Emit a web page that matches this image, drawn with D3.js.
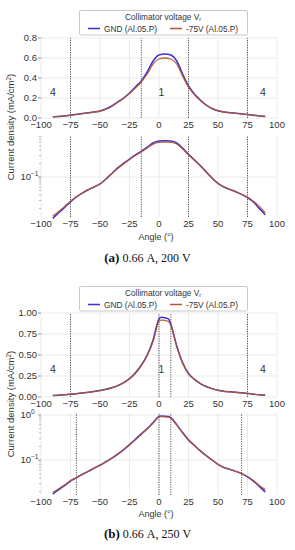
<!DOCTYPE html>
<html>
<head>
<meta charset="utf-8">
<script src="https://cdn.jsdelivr.net/npm/d3@7"></script>
<style>
  body { margin: 0; background: #fff; }
  svg { display: block; font-family: "Liberation Sans", Arial, sans-serif; }
</style>
</head>
<body>
<svg id="chart" width="295" height="550"></svg>
<script>
// Angular current density profiles, two operating points

// ---- data -------------------------------------------------------------
const anglesA = [-90, -85, -80, -75, -70, -65, -60, -55, -50, -45, -40, -35, -30, -25, -20, -15, -10, -5,
  0, 5, 10, 15, 20, 25, 30, 35, 40, 45, 50, 55, 60, 65, 70, 75, 80, 85, 90];
const gndA = [0.012, 0.016, 0.021, 0.028, 0.036, 0.044, 0.052, 0.060, 0.070, 0.090, 0.12, 0.16, 0.20, 0.25, 0.31, 0.37, 0.46, 0.57,
  0.63, 0.64, 0.63, 0.57, 0.44, 0.32, 0.24, 0.18, 0.13, 0.095, 0.072, 0.060, 0.053, 0.047, 0.041, 0.035, 0.028, 0.020, 0.0145];
const neg75A = [0.0135, 0.017, 0.022, 0.029, 0.036, 0.044, 0.052, 0.060, 0.070, 0.089, 0.118, 0.155, 0.195, 0.245, 0.30, 0.36, 0.44, 0.54,
  0.59, 0.60, 0.59, 0.54, 0.42, 0.31, 0.235, 0.175, 0.128, 0.094, 0.072, 0.060, 0.053, 0.047, 0.041, 0.035, 0.029, 0.022, 0.016];

const anglesB = [-90, -85, -80, -75, -70, -65, -60, -55, -50, -45, -40, -35, -30, -25, -20, -15, -10, -5,
  0, 2, 8, 10, 15, 20, 25, 30, 35, 40, 45, 50, 55, 60, 65, 70, 75, 80, 85, 90];
const gndB = [0.0175, 0.022, 0.027, 0.034, 0.040, 0.048, 0.056, 0.066, 0.077, 0.092, 0.11, 0.135, 0.17, 0.22, 0.29, 0.38, 0.50, 0.68,
  0.93, 0.95, 0.93, 0.87, 0.61, 0.41, 0.28, 0.21, 0.16, 0.125, 0.10, 0.08, 0.068, 0.062, 0.056, 0.050, 0.042, 0.034, 0.026, 0.0195];
const neg75B = [0.019, 0.023, 0.028, 0.035, 0.041, 0.048, 0.056, 0.066, 0.077, 0.091, 0.109, 0.133, 0.168, 0.215, 0.28, 0.37, 0.49, 0.66,
  0.90, 0.915, 0.90, 0.85, 0.60, 0.40, 0.275, 0.21, 0.16, 0.125, 0.10, 0.08, 0.068, 0.062, 0.056, 0.050, 0.043, 0.035, 0.027, 0.022];

const xTicks = [-100, -75, -50, -25, 0, 25, 50, 75, 100];
const linTicksA = [0, 0.2, 0.4, 0.6, 0.8];
const linTicksB = [0, 0.25, 0.5, 0.75, 1.0];

const boundsTopA = [-75, -15, 25, 75];
const boundsLogA = [-75, -15, 25, 75];
const boundsTopB = [-75, 0, 10, 75];
const boundsLogB = [-70, 0, 10, 70];

const seriesNames = ['GND (Al.05.P)', '-75V (Al.05.P)'];
const COLORS = { gnd: '#3b2fd6', neg75: '#b4562a', grid: '#e6e6e6', text: '#333' };

// ---- helpers ----------------------------------------------------------
const svg = d3.select('#chart');
const x = d3.scaleLinear().domain([-100, 100]).range([41, 277]);

function drawBounds(g, y, list) {
  const [y0, y1] = y.range();
  list.forEach(a => {
    g.append('line')
      .attr('x1', x(a)).attr('x2', x(a)).attr('y1', y0).attr('y2', y1)
      .attr('stroke', '#444').attr('stroke-width', 0.9).attr('stroke-dasharray', '1.2,1.2');
  });
}

function drawCurves(g, y, angles, s1, s2) {
  const line = vals => d3.line()
    .x((d, i) => x(angles[i]))
    .y(d => y(d))
    .curve(d3.curveMonotoneX)(vals);
  g.append('path').attr('d', line(s1)).attr('fill', 'none')
    .attr('stroke', COLORS.gnd).attr('stroke-width', 1.5);
  g.append('path').attr('d', line(s2)).attr('fill', 'none')
    .attr('stroke', COLORS.neg75).attr('stroke-width', 1.3).attr('opacity', 0.9);
}

function drawXAxis(g, y) {
  const yb = y.range()[0];
  xTicks.forEach(t => {
    g.append('line').attr('x1', x(t)).attr('x2', x(t))
      .attr('y1', y.range()[1]).attr('y2', yb)
      .attr('stroke', COLORS.grid).attr('stroke-width', 0.8);
    g.append('text').attr('x', x(t)).attr('y', yb + 9.5)
      .attr('text-anchor', 'middle').attr('font-size', 9.5).attr('fill', COLORS.text)
      .text(t < 0 ? '\u2212' + Math.abs(t) : t);
  });
}

function linearPlot(top, bottom, ymax, ticks, fmt, angles, s1, s2, bounds) {
  const g = svg.append('g');
  const y = d3.scaleLinear().domain([0, ymax]).range([bottom, top]);
  drawXAxis(g, y);
  ticks.forEach(t => {
    g.append('line').attr('x1', x(-100)).attr('x2', x(100)).attr('y1', y(t)).attr('y2', y(t))
      .attr('stroke', COLORS.grid).attr('stroke-width', 0.8);
    g.append('line').attr('x1', x(-100) - 3).attr('x2', x(-100)).attr('y1', y(t)).attr('y2', y(t))
      .attr('stroke', '#666').attr('stroke-width', 0.7);
    g.append('text').attr('x', x(-100) - 4).attr('y', y(t) + 3.4)
      .attr('text-anchor', 'end').attr('font-size', 9.5).attr('fill', COLORS.text)
      .text(d3.format(fmt)(t));
  });
  drawBounds(g, y, bounds);
  drawCurves(g, y, angles, s1, s2);
  // region labels
  [[-90, '4'], [2, '1'], [88, '4']].forEach(([a, s]) => {
    g.append('text').attr('x', x(a)).attr('y', y(ymax * 0.33) + 4)
      .attr('text-anchor', 'middle').attr('font-size', 10.5).attr('fill', COLORS.text).text(s);
  });
  return g;
}

function logPlot(top, bottom, dom, majors, angles, s1, s2, bounds) {
  const g = svg.append('g');
  const y = d3.scaleLog().domain(dom).range([bottom, top]);
  drawXAxis(g, y);
  majors.forEach(m => {
    g.append('line').attr('x1', x(-100)).attr('x2', x(100)).attr('y1', y(m)).attr('y2', y(m))
      .attr('stroke', COLORS.grid).attr('stroke-width', 0.8);
    g.append('line').attr('x1', x(-100) - 3).attr('x2', x(-100)).attr('y1', y(m)).attr('y2', y(m))
      .attr('stroke', '#666').attr('stroke-width', 0.7);
    const exp = Math.round(Math.log10(m));
    g.append('text').attr('x', x(-100) - 10).attr('y', y(m) + 3.4)
      .attr('text-anchor', 'end').attr('font-size', 9.5).attr('fill', COLORS.text).text('10');
    g.append('text').attr('x', x(-100) - 10).attr('y', y(m) - 1)
      .attr('text-anchor', 'start').attr('font-size', 6.5).attr('fill', COLORS.text)
      .text(exp < 0 ? '\u2212' + Math.abs(exp) : exp);
  });
  // minor ticks
  y.ticks().filter(v => v >= dom[0] && v <= dom[1] && !majors.includes(v)).forEach(v => {
    g.append('line').attr('x1', x(-100) - 2).attr('x2', x(-100)).attr('y1', y(v)).attr('y2', y(v))
      .attr('stroke', '#888').attr('stroke-width', 0.6);
  });
  drawBounds(g, y, bounds);
  drawCurves(g, y, angles, s1, s2);
  return g;
}

function legend(top) {
  const g = svg.append('g');
  g.append('rect').attr('x', 79.5).attr('y', top + 0.5).attr('width', 168).attr('height', 24.5)
    .attr('fill', '#fff').attr('stroke', '#bbb').attr('stroke-width', 0.8).attr('rx', 1.5);
  const t = g.append('text').attr('x', 163).attr('y', top + 9.5).attr('text-anchor', 'middle')
    .attr('font-size', 8.3).attr('fill', COLORS.text);
  t.append('tspan').text('Collimator voltage V');
  t.append('tspan').attr('font-size', 5.5).attr('dy', 1.5).text('r');
  const entries = [[88, COLORS.gnd], [170, COLORS.neg75]];
  entries.forEach(([lx, c], i) => {
    g.append('line').attr('x1', lx).attr('x2', lx + 12).attr('y1', top + 18.5).attr('y2', top + 18.5)
      .attr('stroke', c).attr('stroke-width', 1.5);
    g.append('text').attr('x', lx + 16).attr('y', top + 21.5).attr('font-size', 8.3)
      .attr('fill', COLORS.text).text(seriesNames[i]);
  });
}

function yLabel(cy) {
  const t = svg.append('text').attr('transform', `translate(14,${cy}) rotate(-90)`)
    .attr('text-anchor', 'middle').attr('font-size', 9.5).attr('fill', COLORS.text);
  t.append('tspan').text('Current density (mA/cm');
  t.append('tspan').attr('font-size', 6.5).attr('dy', -3).text('2');
  t.append('tspan').attr('dy', 3).text(')');
}

function caption(cy, tag, rest) {
  const t = svg.append('text').attr('x', 147.5).attr('y', cy).attr('text-anchor', 'middle')
    .attr('font-family', '"Liberation Serif", "DejaVu Serif", serif').attr('font-size', 12).attr('fill', '#111');
  t.append('tspan').attr('font-weight', 'bold').attr('font-size', 13).text(tag);
  t.append('tspan').text(' 0.66\u00a0A, ' + rest);
}

function xLabel(cy) {
  svg.append('text').attr('x', 156).attr('y', cy).attr('text-anchor', 'middle')
    .attr('font-size', 9).attr('fill', COLORS.text).text('Angle (\u00b0)');
}

// ---- panel (a) --------------------------------------------------------
linearPlot(38, 118, 0.8, linTicksA, '.1f', anglesA, gndA, neg75A, boundsTopA);
logPlot(136, 217, [0.0129, 0.815], [0.1], anglesA, gndA, neg75A, boundsLogA);
legend(10);
yLabel(127);
xLabel(240);
caption(262, '(a)', '200\u00a0V');

// ---- panel (b) --------------------------------------------------------
linearPlot(313, 397, 1.0, linTicksB, '.2f', anglesB, gndB, neg75B, boundsTopB);
logPlot(413, 495, [0.0167, 1.107], [0.1, 1], anglesB, gndB, neg75B, boundsLogB);
legend(286);
yLabel(404);
xLabel(517);
caption(538, '(b)', '250\u00a0V');
</script>
</body>
</html>
